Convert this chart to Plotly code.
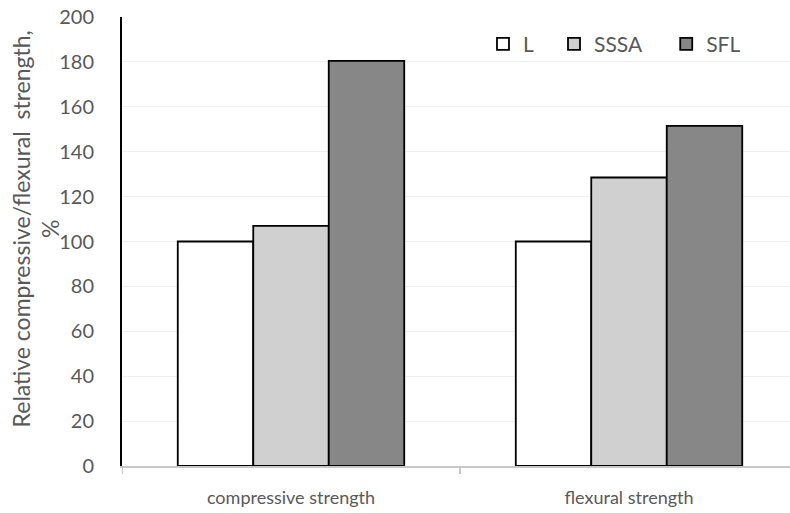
import plotly.graph_objects as go

categories = ["compressive strength", "flexural strength"]
series_names = ["L", "SSSA", "SFL"]
L_vals = [100, 100]
SSSA_vals = [107, 128.5]
SFL_vals = [180.5, 151.5]
y_ticks = [0, 20, 40, 60, 80, 100, 120, 140, 160, 180, 200]

colors = ["#FFFFFF", "#D0D0D0", "#878787"]
font_family = "Lato, 'Open Sans', sans-serif"
legend_names = ["legend", "legend2", "legend3"]
legend_x = [0.5404, 0.6467, 0.8147]

fig = go.Figure()
for name, vals, col, lg in zip(series_names, [L_vals, SSSA_vals, SFL_vals], colors, legend_names):
    fig.add_trace(go.Bar(
        x=[0, 1], y=vals, name=name, legend=lg,
        marker=dict(color=col, line=dict(color="#000000", width=1.8)),
    ))

legend_common = dict(orientation="h", y=0.985, xanchor="left", yanchor="top",
                     font=dict(size=21, color="#595959"), itemwidth=30,
                     bgcolor="rgba(0,0,0,0)")

fig.update_layout(
    width=790, height=513,
    margin=dict(l=122, r=0, t=17, b=47),
    paper_bgcolor="white", plot_bgcolor="white",
    barmode="group", bargap=0.33, bargroupgap=0,
    font=dict(family=font_family, color="#595959", size=18),
    showlegend=True,
    legend=dict(x=legend_x[0], **legend_common),
    legend2=dict(x=legend_x[1], **legend_common),
    legend3=dict(x=legend_x[2], **legend_common),
    xaxis=dict(
        range=[-0.5, 1.4763], automargin=False,
        tickmode="array", tickvals=[0, 1], ticktext=categories,
        showgrid=False, zeroline=False,
        showline=True, linecolor="#C8C8C8", linewidth=2,
        ticks="", ticklabelstandoff=14, tickfont=dict(size=18, color="#595959"),
    ),
    yaxis=dict(
        range=[0, 200], automargin=False, tickmode="array", tickvals=y_ticks,
        showgrid=True, gridcolor="#EFEFEF", gridwidth=1,
        zeroline=False, showline=True, linecolor="#000000", linewidth=2,
        ticks="", ticklabelstandoff=22, ticklabeloverflow="allow",
        tickfont=dict(size=20, color="#595959"),
    ),
    annotations=[dict(
        text="Relative compressive/flexural  strength,<br>%",
        textangle=-90, xref="paper", yref="paper",
        x=-0.1295, y=0.528, xanchor="center", yanchor="middle",
        showarrow=False, font=dict(size=23, color="#595959"),
    )],
)

# category divider tick marks on x axis
for xv in [-0.5, 0.5]:
    fig.add_shape(type="line", xref="x", yref="paper", x0=xv, x1=xv, y0=0, y1=-0.018,
                  line=dict(color="#C8C8C8", width=2))

fig.write_html("out.html", config={"displayModeBar": False},
               post_script="document.body.style.margin='0';")
